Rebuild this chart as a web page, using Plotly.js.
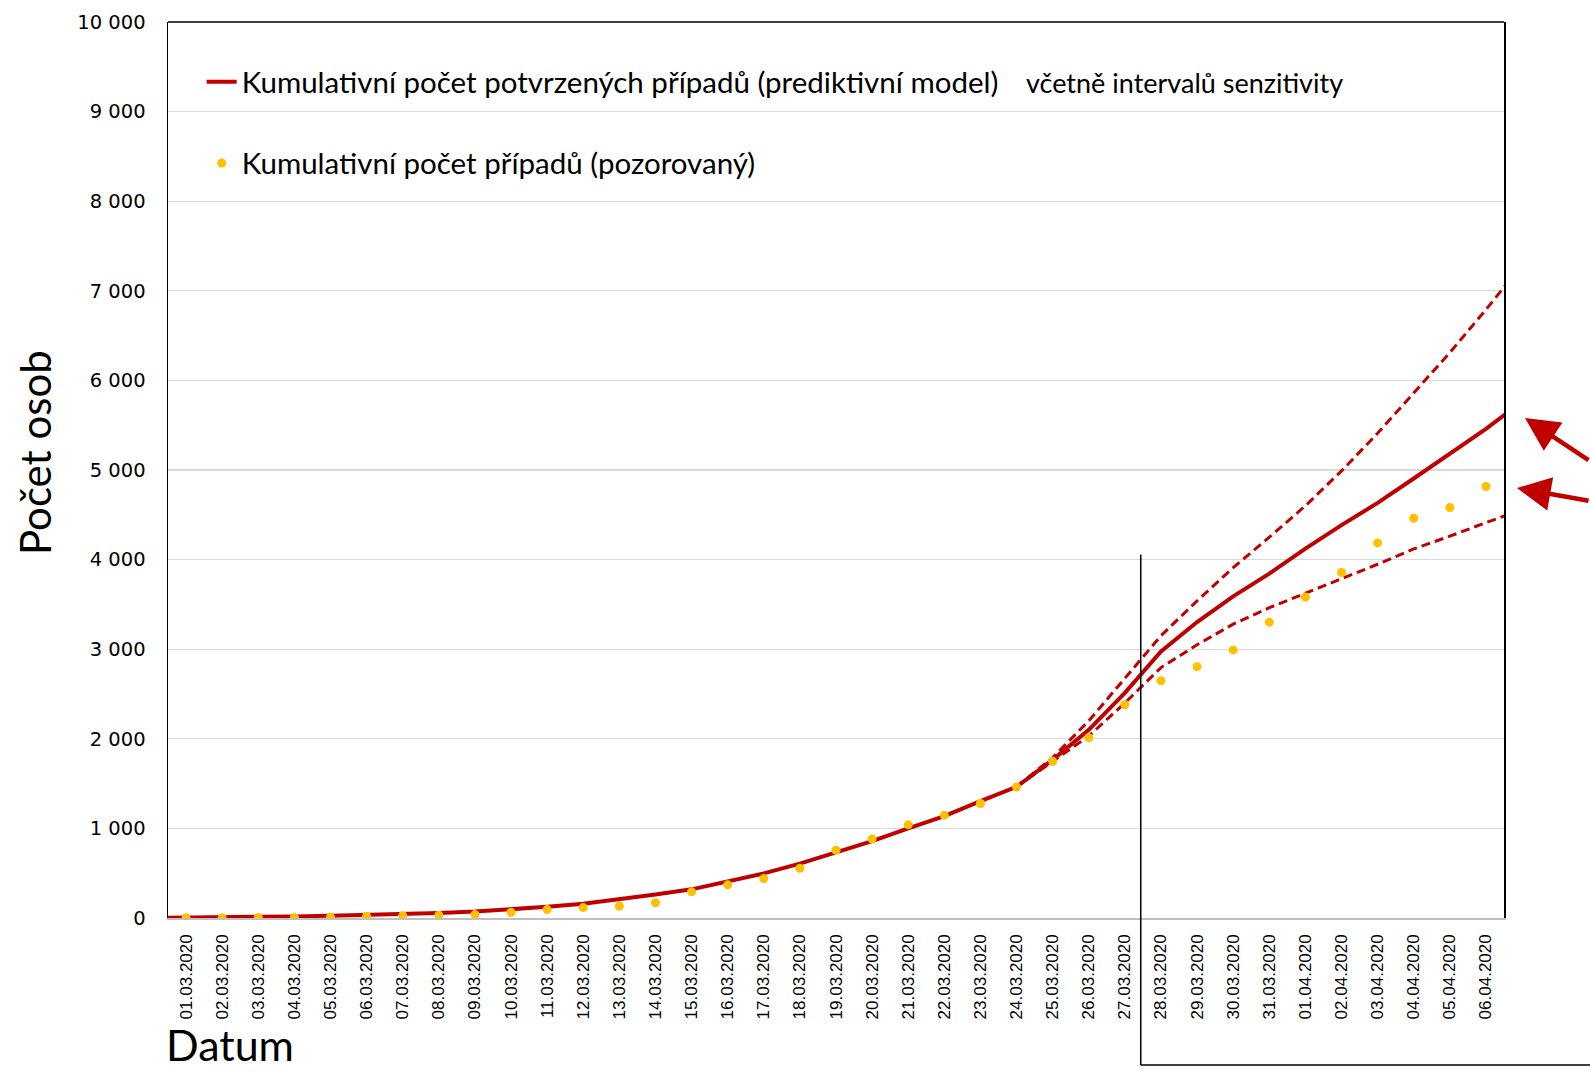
<!DOCTYPE html>
<html>
<head>
<meta charset="utf-8">
<script src="https://cdn.plot.ly/plotly-3.0.1.min.js"></script>
<style>
html,body{margin:0;padding:0;background:#fff;}
#chart{width:1590px;height:1072px;}
</style>
</head>
<body>
<div id="chart"></div>
<script>
// Category labels shown on the x axis
const dates = ['01.03.2020','02.03.2020','03.03.2020','04.03.2020','05.03.2020','06.03.2020','07.03.2020','08.03.2020','09.03.2020','10.03.2020',
  '11.03.2020','12.03.2020','13.03.2020','14.03.2020','15.03.2020','16.03.2020','17.03.2020','18.03.2020','19.03.2020','20.03.2020',
  '21.03.2020','22.03.2020','23.03.2020','24.03.2020','25.03.2020','26.03.2020','27.03.2020','28.03.2020','29.03.2020','30.03.2020',
  '31.03.2020','01.04.2020','02.04.2020','03.04.2020','04.04.2020','05.04.2020','06.04.2020'];

// Observed cumulative cases (one per date)
const observed = [3,3,5,5,8,19,26,32,38,63,94,116,132,170,292,370,440,555,755,882,1040,1148,1278,1462,1750,2012,2380,2648,2805,2992,3302,3582,3856,4186,4462,4582,4816];

// Model dates: the model line runs slightly past both ends of the plotted range (clipped at the axes)
const modelDates = ['29.02.2020','01.03.2020','02.03.2020','03.03.2020','04.03.2020','05.03.2020','06.03.2020','07.03.2020','08.03.2020','09.03.2020','10.03.2020',
  '11.03.2020','12.03.2020','13.03.2020','14.03.2020','15.03.2020','16.03.2020','17.03.2020','18.03.2020','19.03.2020','20.03.2020',
  '21.03.2020','22.03.2020','23.03.2020','24.03.2020','25.03.2020','26.03.2020','27.03.2020','28.03.2020','29.03.2020','30.03.2020',
  '31.03.2020','01.04.2020','02.04.2020','03.04.2020','04.04.2020','05.04.2020','06.04.2020','07.04.2020'];
const model = [0,2,5,10,18,26,34,44,55,72,93,125,160,207,262,320,405,498,606,728,858,1000,1137,1304,1465,1765,2100,2512,2975,3303,3590,3843,4123,4384,4633,4905,5177,5460,5762];

// Sensitivity interval bounds
const boundDates = ['24.03.2020','25.03.2020','26.03.2020','27.03.2020','28.03.2020','29.03.2020','30.03.2020','31.03.2020',
  '01.04.2020','02.04.2020','03.04.2020','04.04.2020','05.04.2020','06.04.2020','07.04.2020'];
const upperBound = [1465,1790,2200,2670,3150,3540,3910,4250,4600,4990,5410,5860,6310,6790,7290];
const lowerBound = [1465,1745,2030,2400,2795,3049,3280,3463,3623,3787,3948,4119,4261,4413,4557];

const yTicks = [0,1000,2000,3000,4000,5000,6000,7000,8000,9000,10000];

const RED = '#C00000';
const GOLD = '#FFC000';
const TXT = 'Lato, "Open Sans", sans-serif';

const traces = [
  {x: boundDates, y: upperBound, type:'scatter', mode:'lines', line:{color:RED, width:3, dash:'9px,5px'}, showlegend:false, hoverinfo:'skip'},
  {x: boundDates, y: lowerBound, type:'scatter', mode:'lines', line:{color:RED, width:3, dash:'9px,5px'}, showlegend:false, hoverinfo:'skip'},
  {x: modelDates, y: model, type:'scatter', mode:'lines', name:'Kumulativní počet potvrzených případů (prediktivní model)',
   line:{color:RED, width:4}, legend:'legend'},
  {x: dates, y: observed, type:'scatter', mode:'markers', name:'Kumulativní počet případů (pozorovaný)',
   marker:{color:GOLD, size:9}, legend:'legend2'}
];

const layout = {
  width:1590, height:1072,
  margin:{l:168, r:86, t:22, b:154},
  paper_bgcolor:'#fff', plot_bgcolor:'#fff',
  separators:', ',
  font:{family:TXT, color:'#000'},
  xaxis:{
    type:'category', categoryorder:'array', categoryarray: modelDates,
    range:[0.5, 37.5], tickvals: dates, tickangle:-90,
    tickfont:{family:'"Liberation Sans", Arial, sans-serif', size:17, color:'#000'},
    showgrid:false, showline:true, linecolor:'#BFBFBF', linewidth:1.5, ticks:'', ticklabelstandoff:8,
    zeroline:false
  },
  yaxis:{
    range:[0,10000], tickvals: yTicks, tickformat:',d',
    tickfont:{family:'"DejaVu Sans", Verdana, sans-serif', size:19.5, color:'#000'},
    showgrid:true, gridcolor:'#D9D9D9', gridwidth:1.3,
    showline:true, linecolor:'#000', linewidth:1.5, mirror:true, ticks:'', ticklabelstandoff:17,
    zeroline:false
  },
  legend:{x:0.0252, y:0.933, xanchor:'left', yanchor:'middle', bgcolor:'rgba(0,0,0,0)',
    font:{family:TXT, size:29.5, color:'#000'}},
  legend2:{x:0.0252, y:0.8423, xanchor:'left', yanchor:'middle', bgcolor:'rgba(0,0,0,0)',
    font:{family:TXT, size:29.5, color:'#000'}},
  shapes:[
    {type:'line', xref:'paper', yref:'paper', x0:0, x1:1, y0:1, y1:1, line:{color:'#000', width:1.5}},
    {type:'line', xref:'paper', yref:'paper', x0:0.7281, x1:0.7281, y0:0.4057, y1:-0.164, line:{color:'#000', width:1.5}},
    {type:'line', xref:'paper', yref:'paper', x0:0.7281, x1:1.07, y0:-0.164, y1:-0.164, line:{color:'#000', width:1.5}}
  ],
  annotations:[
    {text:'včetně intervalů senzitivity', xref:'paper', yref:'paper', x:0.6404, y:0.933, xanchor:'left', yanchor:'middle',
     showarrow:false, font:{family:TXT, size:27, color:'#000'}},
    {text:'Počet osob', xref:'paper', yref:'paper', x:-0.0995, y:0.519, xanchor:'center', yanchor:'middle', textangle:-90,
     showarrow:false, font:{family:TXT, size:42, color:'#000'}},
    {text:'Datum', xref:'paper', yref:'paper', x:-0.003, y:-0.1715, xanchor:'left', yanchor:'bottom',
     showarrow:false, font:{family:TXT, size:43, color:'#000'}},
    {text:'', xref:'paper', yref:'paper', x:1.0157, y:0.558, ax:70, ay:43, showarrow:true,
     arrowcolor:RED, arrowwidth:4.5, arrowhead:2, arrowsize:1.5, standoff:0},
    {text:'', xref:'paper', yref:'paper', x:1.0097, y:0.4799, ax:78, ay:13, showarrow:true,
     arrowcolor:RED, arrowwidth:4.5, arrowhead:2, arrowsize:1.5, standoff:0}
  ]
};

Plotly.newPlot('chart', traces, layout, {displayModeBar:false, staticPlot:true});
</script>
</body>
</html>
